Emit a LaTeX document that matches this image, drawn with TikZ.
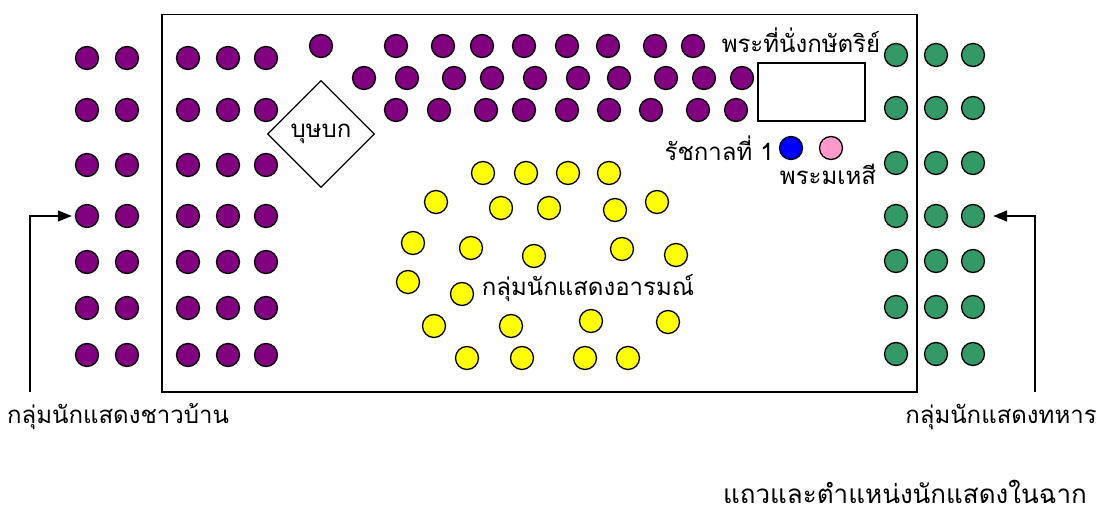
\documentclass[tikz,border=0pt]{standalone}
\usepackage{fontspec}
\newfontfamily\thaifont[Script=Thai]{Loma}
\usetikzlibrary{shapes.geometric,arrows.meta}
\definecolor{purp}{HTML}{800080}
\definecolor{grn}{HTML}{339966}
\definecolor{yel}{HTML}{FFFF00}
\definecolor{pinkc}{HTML}{FF99CC}
\begin{document}
\begin{tikzpicture}[x=1pt,y=-1pt,
  dot/.style={circle,draw=black,line width=1.3pt,minimum size=23pt,inner sep=0pt},
  pd/.style={dot,fill=purp},
  gd/.style={dot,fill=grn},
  yd/.style={dot,fill=yel},
  lbl/.style={font=\thaifont\fontsize{24}{27}\selectfont,inner sep=0pt},
  arr/.style={line width=1.3pt,-{Triangle[length=14pt,width=11pt]}}]
\useasboundingbox (0,0) rectangle (1097,513);
\node[draw,line width=1.5pt,minimum width=755pt,minimum height=377pt,inner sep=0pt,anchor=north west] (stage) at (161,14) {};
% left purple
\foreach \y [count=\r] in {58,110,165,216,262,308,355}{
  \node[pd] (LA\r) at (87,\y) {};
  \node[pd] (LB\r) at (127,\y) {};
  \node[pd] (LC\r) at (188,\y) {};
  \node[pd] (LD\r) at (228,\y) {};
  \node[pd] (LE\r) at (266,\y) {};
}
% green
\foreach \y [count=\r] in {55,108,163,216,261,307,354}{
  \node[gd] (GA\r) at (896,\y) {};
  \node[gd] (GB\r) at (936,\y) {};
  \node[gd] (GC\r) at (973,\y) {};
}
% top purple rows
\foreach \x [count=\i] in {321,396,443,482,524,567,608,655,693}{
  \node[pd] (TA\i) at (\x,46) {};
}
\foreach \x [count=\i] in {364,407,454,492,535,578,619,666,704,742}{
  \node[pd] (TB\i) at (\x,78) {};
}
\foreach \x [count=\i] in {396,439,486,524,567,609,651,698,736}{
  \node[pd] (TC\i) at (\x,110) {};
}
% yellow
\foreach \p [count=\i] in {{483,173},{526,173},{568,173},{609,173},
  {436,202},{501,208},{549,208},{615,210},{657,202},
  {413,243},{471,248},{534,256},{622,249},{676,255},
  {408,282},{462,294},
  {434,326},{511,326},{591,321},{668,322},
  {467,358},{522,358},{585,358},{628,358}}{
  \node[yd] (Y\i) at (\p) {};
}
% diamond
\node[diamond,draw,line width=1.3pt,aspect=1,minimum width=107pt,minimum height=107pt,inner sep=0pt,lbl] (busabok) at (321,134) {บุษบก};
% throne
\node[draw,line width=1.3pt,minimum width=107pt,minimum height=58pt,inner sep=0pt] (throne) at (811.5,92) {};
\node[lbl] (thronelbl) at (801,40) {พระที่นั่งกษัตริย์};
\node[dot,fill=blue] (king) at (791,148) {};
\node[dot,fill=pinkc] (queen) at (831,148) {};
\node[lbl,anchor=east] (kinglbl) at (774,148) {รัชกาลที่ 1};
\node[lbl] (queenlbl) at (828,174) {พระมเหสี};
\node[lbl] (emolbl) at (588,288) {กลุ่มนักแสดงอารมณ์};
% bottom labels and arrows
\node[lbl] (villbl) at (118,417) {กลุ่มนักแสดงชาวบ้าน};
\node[lbl] (sollbl) at (1001,417) {กลุ่มนักแสดงทหาร};
\coordinate (la) at (30,392);
\coordinate (ra) at (1035,392);
\draw[arr,shorten >=3pt] (la) |- (LA4.west);
\draw[arr,shorten >=8pt] (ra) |- (GC4.east);
\node[font=\thaifont\fontsize{26}{30}\selectfont,inner sep=0pt] (caption) at (905,492) {แถวและตำแหน่งนักแสดงในฉาก};
\end{tikzpicture}
\end{document}
